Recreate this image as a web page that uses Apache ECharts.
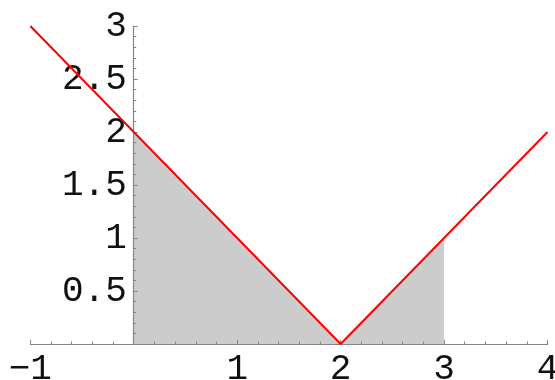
<!DOCTYPE html>
<html>
<head>
<meta charset="utf-8">
<script src="https://cdn.jsdelivr.net/npm/echarts@6/dist/echarts.min.js"></script>
<style>html,body{margin:0;padding:0;background:#fff}#c{width:555px;height:380px}</style>
</head>
<body>
<div id="c"></div>
<script>
// |x-2| curve vertices
var curveX = [-1, 2, 4];
var curveY = [3, 0, 2];
// shaded region (0..3)
var shadeX = [0, 2, 3];
var shadeY = [2, 0, 1];
// tick labels
var xTickValues = [-1, 0, 1, 2, 3, 4];
var xTickLabels = ['\u22121', '', '1', '2', '3', '4'];
var yTickValues = [0, 0.5, 1, 1.5, 2, 2.5, 3];
var yTickLabels = ['', '0.5', '1', '1.5', '2', '2.5', '3'];

function pairs(xs, ys) { return xs.map(function (x, i) { return [x, ys[i]]; }); }
function lookup(vals, labels, v) {
  for (var i = 0; i < vals.length; i++) if (Math.abs(vals[i] - v) < 1e-9) return labels[i];
  return '';
}
var axisColor = '#858585';
var font = { fontFamily: '"Liberation Mono", "Courier New", monospace', fontSize: 36, color: '#111' };
var gridLeft = 30.3, gridRight = 7.5;
var chart = echarts.init(document.getElementById('c'), null, { renderer: 'canvas' });
var plotW = 555 - gridLeft - gridRight;
var zeroOffset = plotW * (0 - (-1)) / (4 - (-1));
chart.setOption({
  animation: false,
  backgroundColor: '#fff',
  grid: { left: gridLeft, right: gridRight, top: 26, bottom: 36, containLabel: false, outerBoundsMode: 'none' },
  xAxis: {
    type: 'value', min: -1, max: 4, interval: 1, z: 10,
    axisLine: { onZero: true, lineStyle: { color: axisColor, width: 1.2 } },
    axisTick: { inside: true, length: 4, lineStyle: { color: axisColor } },
    minorTick: { show: true, splitNumber: 5, length: 2.5, lineStyle: { color: axisColor } },
    splitLine: { show: false },
    axisLabel: Object.assign({ margin: 7, formatter: function (v) { return lookup(xTickValues, xTickLabels, v); } }, font)
  },
  yAxis: {
    type: 'value', min: 0, max: 3, interval: 0.5, z: 10,
    offset: -zeroOffset,
    axisLine: { onZero: false, lineStyle: { color: axisColor, width: 1.2 } },
    axisTick: { inside: true, length: 4, lineStyle: { color: axisColor } },
    minorTick: { show: true, splitNumber: 5, length: 2.5, lineStyle: { color: axisColor } },
    splitLine: { show: false },
    axisLabel: Object.assign({ margin: 7, formatter: function (v) { return lookup(yTickValues, yTickLabels, v); } }, font)
  },
  series: [
    {
      type: 'line', data: pairs(shadeX, shadeY), symbol: 'none', z: 1,
      lineStyle: { width: 0, opacity: 0 },
      areaStyle: { color: '#cccccc', opacity: 1 }
    },
    {
      type: 'line', data: pairs(curveX, curveY), symbol: 'none', z: 12,
      lineStyle: { color: '#ff0000', width: 2 }
    }
  ]
});
</script>
</body>
</html>
